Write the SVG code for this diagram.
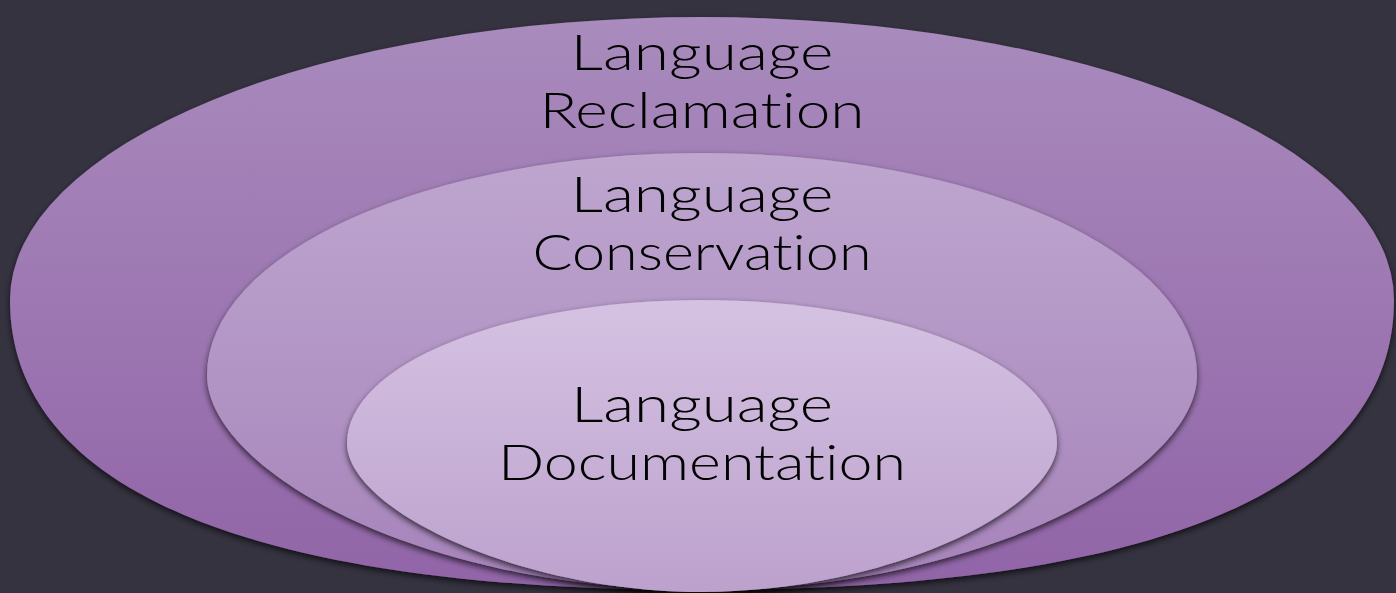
<svg xmlns="http://www.w3.org/2000/svg" width="1396" height="593" viewBox="0 0 1396 593">
<defs>
<linearGradient id="g1" x1="0" y1="0" x2="0" y2="1"><stop offset="0" stop-color="#a98bbd"/><stop offset="1" stop-color="#9164a7"/></linearGradient>
<linearGradient id="g2" x1="0" y1="0" x2="0" y2="1"><stop offset="0" stop-color="#bea6cf"/><stop offset="1" stop-color="#a683ba"/></linearGradient>
<linearGradient id="g3" x1="0" y1="0" x2="0" y2="1"><stop offset="0" stop-color="#d5c2e2"/><stop offset="1" stop-color="#bca1cd"/></linearGradient>
<filter id="sh" x="-10%" y="-10%" width="120%" height="130%"><feDropShadow dx="0" dy="3" stdDeviation="3" flood-color="#000" flood-opacity="0.7"/></filter>
</defs>
<style>
.lbl{font-family:"Lato","DejaVu Sans",sans-serif;font-weight:300;font-size:50px;fill:#000;text-anchor:middle;font-variant-ligatures:none;font-feature-settings:"liga" 0}
</style>
<rect width="1396" height="593" fill="#363341"/>
<g id="reclamation">
<path d="M10,300 A692,283 0 0 1 1394,300 C1394,485 1164,590 702,590 C240,590 10,485 10,300 Z" fill="url(#g1)" filter="url(#sh)"/>
<text class="lbl" x="702" y="70" textLength="263" lengthAdjust="spacingAndGlyphs">Language</text>
<text class="lbl" x="702" y="128" textLength="325" lengthAdjust="spacingAndGlyphs">Reclamation</text>
</g>
<g id="conservation">
<path d="M207,375 A495,222 0 0 1 1197,375 C1197,470 984,590 702,590 C420,590 207,470 207,375 Z" fill="url(#g2)" filter="url(#sh)"/>
<text class="lbl" x="702" y="212" textLength="263" lengthAdjust="spacingAndGlyphs">Language</text>
<text class="lbl" x="702" y="270" textLength="339" lengthAdjust="spacingAndGlyphs">Conservation</text>
</g>
<g id="documentation">
<path d="M347,443 A355,143 0 0 1 1057,443 C1057,510 884,592 702,592 C520,592 347,510 347,443 Z" fill="url(#g3)" filter="url(#sh)"/>
<text class="lbl" x="702" y="422" textLength="262" lengthAdjust="spacingAndGlyphs">Language</text>
<text class="lbl" x="702" y="480" textLength="408" lengthAdjust="spacingAndGlyphs">Documentation</text>
</g>
<g id="connectors"/>
</svg>
